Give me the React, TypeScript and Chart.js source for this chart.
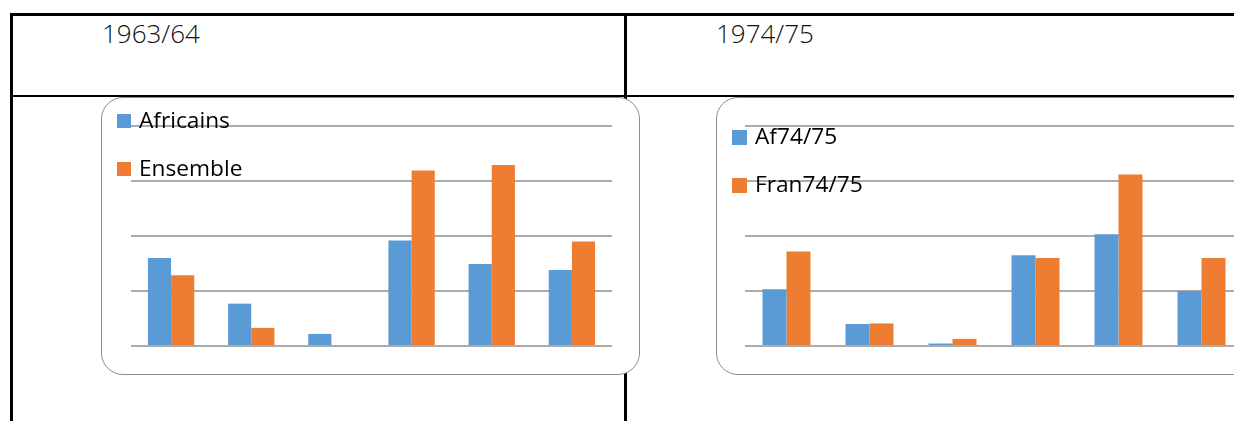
import React, { useEffect, useRef } from "react";
import { Chart, registerables } from "chart.js";

Chart.register(...registerables);

const categories = ["C1", "C2", "C3", "C4", "C5", "C6"];
const africains6364 = [16.0, 7.7, 2.2, 19.2, 14.9, 13.8];
const ensemble6364 = [12.85, 3.3, 0, 31.9, 32.9, 19.0];
const af7475 = [10.3, 4.0, 0.45, 16.5, 20.3, 10.0];
const fran7475 = [17.2, 4.1, 1.3, 16.0, 31.2, 16.0];
const yTicks = [0, 10, 20, 30, 40];

const BLUE = "#5B9BD5";
const ORANGE = "#ED7D31";
const GRID = "#ababab";

type ChartBoxProps = {
  left: number;
  width: number;
  canvasWidth: number;
  padLeft: number;
  padRight: number;
  labels: [string, string];
  values: [number[], number[]];
  legendLeft: number;
  legendTop: number;
  square: number;
};

function BarChart(props: ChartBoxProps) {
  const ref = useRef<HTMLCanvasElement | null>(null);
  useEffect(() => {
    if (!ref.current) return;
    const chart = new Chart(ref.current, {
      type: "bar",
      data: {
        labels: categories,
        datasets: [
          { label: props.labels[0], data: props.values[0], backgroundColor: BLUE, borderWidth: 0 },
          { label: props.labels[1], data: props.values[1], backgroundColor: ORANGE, borderWidth: 0 },
        ],
      },
      options: {
        animation: false,
        responsive: false,
        maintainAspectRatio: false,
        devicePixelRatio: 1,
        layout: { padding: { left: props.padLeft, right: props.padRight, top: 29, bottom: 29 } },
        datasets: { bar: { categoryPercentage: 0.578, barPercentage: 1.0 } },
        plugins: { legend: { display: false }, tooltip: { enabled: false }, title: { display: false } },
        scales: {
          x: { display: false },
          y: {
            min: yTicks[0],
            max: yTicks[yTicks.length - 1],
            ticks: { display: false, stepSize: yTicks[1] - yTicks[0] },
            grid: { color: GRID, lineWidth: 2, drawTicks: false },
            border: { display: false },
          },
        },
      },
    });
    return () => chart.destroy();
  }, []);

  const textStyle: React.CSSProperties = {
    position: "absolute",
    fontFamily: "'Open Sans', sans-serif",
    fontSize: "22.7px",
    lineHeight: "23px",
    color: "#000",
    whiteSpace: "nowrap",
  };

  return (
    <div
      style={{
        position: "absolute",
        left: props.left,
        top: 97,
        width: props.width,
        height: 278,
        boxSizing: "border-box",
        border: "1px solid #8c8c8c",
        borderRadius: 22,
        background: "#fff",
      }}
    >
      <canvas
        ref={ref}
        width={props.canvasWidth}
        height={278}
        style={{ position: "absolute", left: -1, top: -1, width: props.canvasWidth, height: 278 }}
      />
      {[0, 1].map((i) => (
        <React.Fragment key={i}>
          <div
            style={{
              position: "absolute",
              left: props.legendLeft - props.left - 1,
              top: props.legendTop + i * 48 - 98,
              width: props.square,
              height: props.square,
              background: i === 0 ? BLUE : ORANGE,
            }}
          />
          <div
            style={{
              ...textStyle,
              left: props.legendLeft + props.square + 8 - props.left - 1,
              top: props.legendTop + i * 48 - 98 - 6,
            }}
          >
            {props.labels[i]}
          </div>
        </React.Fragment>
      ))}
    </div>
  );
}

export default function App() {
  const line: React.CSSProperties = { position: "absolute", background: "#000" };
  const titleStyle: React.CSSProperties = {
    position: "absolute",
    top: 20,
    fontFamily: "'Open Sans', sans-serif",
    fontWeight: 300,
    fontSize: "26px",
    lineHeight: "26px",
    color: "#111",
    whiteSpace: "nowrap",
  };
  return (
    <div style={{ position: "fixed", left: 0, top: 0, width: 1234, height: 421, overflow: "hidden", background: "#fff" }}>
      <div style={{ ...line, left: 10, top: 13, width: 1230, height: 2.5 }} />
      <div style={{ ...line, left: 10, top: 95, width: 1230, height: 2 }} />
      <div style={{ ...line, left: 10, top: 13, width: 2.5, height: 420 }} />
      <div style={{ ...line, left: 624, top: 13, width: 2.5, height: 420 }} />
      <div style={{ ...titleStyle, left: 102 }}>1963/64</div>
      <div style={{ ...titleStyle, left: 716 }}>1974/75</div>
      <BarChart
        left={101}
        width={539}
        canvasWidth={539}
        padLeft={30}
        padRight={28}
        labels={["Africains", "Ensemble"]}
        values={[africains6364, ensemble6364]}
        legendLeft={117}
        legendTop={114}
        square={14}
      />
      <BarChart
        left={716}
        width={600}
        canvasWidth={556}
        padLeft={29}
        padRight={29}
        labels={["Af74/75", "Fran74/75"]}
        values={[af7475, fran7475]}
        legendLeft={732}
        legendTop={129.5}
        square={15}
      />
    </div>
  );
}
